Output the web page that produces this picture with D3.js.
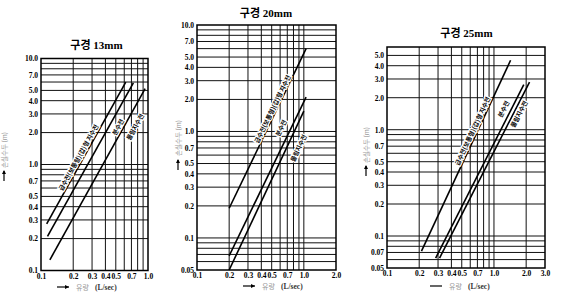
<!DOCTYPE html>
<html><head><meta charset="utf-8">
<script src="https://cdn.jsdelivr.net/npm/d3@7"></script>
<style>body{margin:0;background:#fff}svg{display:block}</style>
</head><body>
<svg id="c" width="561" height="301"></svg>
<script>
// ---------- data ----------
const titles = ["구경 13mm", "구경 20mm", "구경 25mm"];
const seriesNames = ["급수전(보통형)(갑)형 지수전", "분수전", "물림지수전"];

// each line: [start, end] flow (L/sec) and head loss (m)
const flow13 = [[0.113, 0.62], [0.115, 0.73], [0.121, 0.94]];
const head13 = [[0.275, 6.0], [0.21, 5.9], [0.126, 5.2]];
const flow20 = [[0.2, 1.05], [0.2, 1.05], [0.2, 1.0]];
const head20 = [[0.19, 6.0], [0.068, 2.1], [0.05, 1.55]];
const flow25 = [[0.21, 1.43], [0.285, 1.9], [0.31, 2.15]];
const head25 = [[0.072, 4.5], [0.062, 2.65], [0.062, 2.8]];

const xTicks13 = [0.1, 0.2, 0.3, 0.4, 0.5, 0.7, 1.0];
const yTicks13 = [0.1, 0.2, 0.3, 0.4, 0.5, 0.7, 1, 2, 3, 4, 5, 7, 10];
const xTicks20 = [0.1, 0.2, 0.3, 0.4, 0.5, 0.7, 1.0, 2.0];
const yTicks20 = [0.05, 0.1, 0.2, 0.3, 0.4, 0.5, 0.7, 1, 2, 3, 4, 5, 7, 10];
const xTicks25 = [0.1, 0.2, 0.3, 0.4, 0.5, 0.7, 1.0, 2.0, 3.0];
const yTicks25 = [0.05, 0.07, 0.1, 0.2, 0.3, 0.4, 0.5, 0.7, 1, 2, 3, 4, 5];

const xAxisTitle = "유량";
const xAxisUnit = "(L/sec)";
const yAxisTitle = "손실수두";
const yAxisUnit = "(m)";

// ---------- layout ----------
const charts = [
  { flow: flow13, head: head13, xt: xTicks13, yt: yTicks13, xd: [0.1, 1], yd: [0.1, 10],
    px: [41, 148], py: [270.5, 58.5], title: [96.5, 45],
    ylab: [4, 150], yarrow: [181, 171], xlab: [57, 287],
    lab: [[0.2236, 1.164], [0.524, 2.26], [0.756, 2.26]], arrowHead: true },
  { flow: flow20, head: head20, xt: xTicks20, yt: yTicks20, xd: [0.1, 2], yd: [0.05, 10],
    px: [197, 336], py: [270, 25], title: [266, 13],
    ylab: [178, 138], yarrow: [170, 160], xlab: [243, 286],
    lab: [[0.509, 1.625], [0.612, 1.08], [0.89, 0.70]], arrowHead: true },
  { flow: flow25, head: head25, xt: xTicks25, yt: yTicks25, xd: [0.1, 3], yd: [0.05, 6],
    px: [387, 545], py: [268, 47], title: [466.5, 32.5],
    ylab: [366, 145], yarrow: [176, 166], xlab: [430, 286],
    lab: [[0.63, 0.972], [1.227, 1.566], [1.713, 1.405]], arrowHead: false }
];

const svg = d3.select("#c");
const serif = "'Liberation Serif','DejaVu Serif','Noto Sans CJK KR',serif";
const kr = "'Noto Sans CJK KR','Noto Sans',sans-serif";
const fmt = v => v < 0.1 ? v.toFixed(2) : v.toFixed(1);

function gridVals(d) {
  const out = [];
  for (let e = -3; e <= 2; e++) {
    for (let m = 1; m <= 9; m++) {
      const v = +(m * Math.pow(10, e)).toPrecision(3);
      if (v > d[0] * 1.0001 && v < d[1] * 0.9999) out.push(v);
    }
  }
  return out;
}

charts.forEach((c, i) => {
  const x = d3.scaleLog().domain(c.xd).range(c.px);
  const y = d3.scaleLog().domain(c.yd).range(c.py);
  const g = svg.append("g");

  // grid
  g.append("g").selectAll("line").data(gridVals(c.xd)).join("line")
    .attr("x1", d => x(d)).attr("x2", d => x(d))
    .attr("y1", c.py[0]).attr("y2", c.py[1])
    .attr("stroke", "#111").attr("stroke-width", 1);
  g.append("g").selectAll("line").data(gridVals(c.yd)).join("line")
    .attr("y1", d => y(d)).attr("y2", d => y(d))
    .attr("x1", c.px[0]).attr("x2", c.px[1])
    .attr("stroke", "#111").attr("stroke-width", 1);

  // frame
  g.append("rect").attr("x", c.px[0]).attr("y", c.py[1])
    .attr("width", c.px[1] - c.px[0]).attr("height", c.py[0] - c.py[1])
    .attr("fill", "none").attr("stroke", "#000").attr("stroke-width", 1.5);

  // axes (labels only)
  const ax = g.append("g").attr("transform", `translate(0,${c.py[0]})`)
    .call(d3.axisBottom(x).tickValues(c.xt).tickFormat(fmt).tickSize(0).tickPadding(3));
  const ay = g.append("g").attr("transform", `translate(${c.px[0]},0)`)
    .call(d3.axisLeft(y).tickValues(c.yt).tickFormat(fmt).tickSize(0).tickPadding(3));
  [ax, ay].forEach(a => {
    a.select(".domain").remove();
    a.selectAll("text").attr("font-family", serif).attr("font-size", 7.5)
      .attr("font-weight", "bold").attr("fill", "#000");
  });

  // series lines
  const line = d3.line().x(d => x(d[0])).y(d => y(d[1]));
  c.flow.forEach((f, k) => {
    const pts = [[f[0], c.head[k][0]], [f[1], c.head[k][1]]];
    g.append("path").attr("d", line(pts)).attr("fill", "none")
      .attr("stroke", "#000").attr("stroke-width", 1.6);
  });

  // series labels
  c.flow.forEach((f, k) => {
    const dx = x(f[1]) - x(f[0]), dy = y(c.head[k][1]) - y(c.head[k][0]);
    const ang = Math.atan2(dy, dx) * 180 / Math.PI;
    const lx = x(c.lab[k][0]), ly = y(c.lab[k][1]);
    g.append("text").attr("transform", `translate(${lx},${ly}) rotate(${ang})`)
      .attr("text-anchor", "middle").attr("dominant-baseline", "central")
      .attr("font-family", kr).attr("font-size", 6.3).attr("font-weight", "bold")
      .attr("fill", "#000").attr("stroke", "#fff").attr("stroke-width", 2.5)
      .attr("paint-order", "stroke").text(seriesNames[k]);
  });

  // title
  g.append("text").attr("x", c.title[0]).attr("y", c.title[1])
    .attr("text-anchor", "middle").attr("dominant-baseline", "central")
    .attr("font-family", serif).attr("font-size", 11).attr("font-weight", "bold")
    .text(titles[i]);

  // x axis title
  const xl = g.append("g").attr("transform", `translate(${c.xlab[0]},${c.xlab[1]})`);
  xl.append("line").attr("x1", 0).attr("x2", 12).attr("y1", 0).attr("y2", 0)
    .attr("stroke", "#000").attr("stroke-width", 1.2);
  if (c.arrowHead) xl.append("path").attr("d", "M12,0 L8,-2 L8,2 Z").attr("fill", "#000");
  xl.append("text").attr("x", 19).attr("y", 0).attr("dominant-baseline", "central")
    .attr("font-family", kr).attr("font-size", 7).attr("fill", "#999").text(xAxisTitle);
  xl.append("text").attr("x", 38).attr("y", 0).attr("dominant-baseline", "central")
    .attr("font-family", serif).attr("font-size", 7.5).attr("font-weight", "bold")
    .attr("fill", "#333").text(xAxisUnit);

  // y axis title
  g.append("text").attr("transform", `translate(${c.ylab[0]},${c.ylab[1]}) rotate(-90)`)
    .attr("text-anchor", "middle").attr("dominant-baseline", "central")
    .attr("font-family", kr).attr("font-size", 6.5).attr("fill", "#999")
    .text(yAxisTitle + " " + yAxisUnit);
  g.append("line").attr("x1", c.ylab[0]).attr("x2", c.ylab[0])
    .attr("y1", c.yarrow[0]).attr("y2", c.yarrow[1])
    .attr("stroke", "#000").attr("stroke-width", 1.2);
  g.append("path").attr("d", `M${c.ylab[0]},${c.yarrow[1] - 1} l-2,4 l4,0 Z`).attr("fill", "#000");
});
</script>
</body></html>
